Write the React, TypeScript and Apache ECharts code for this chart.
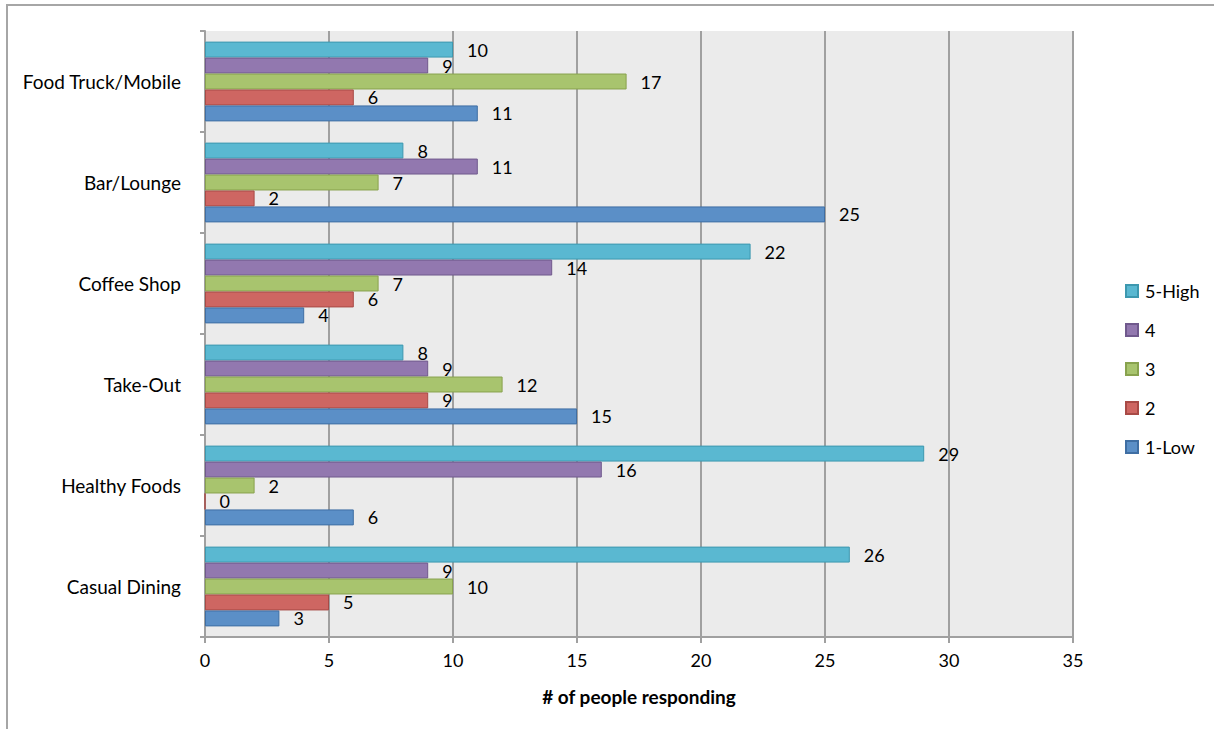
import React, { useEffect, useRef } from "react";
import * as echarts from "echarts";

const categories = ["Casual Dining", "Healthy Foods", "Take-Out", "Coffee Shop", "Bar/Lounge", "Food Truck/Mobile"];
const seriesNames = ["5-High", "4", "3", "2", "1-Low"];
const high5 = [26, 29, 8, 22, 8, 10];
const s4 = [9, 16, 9, 14, 11, 9];
const s3 = [10, 2, 12, 7, 7, 17];
const s2 = [5, 0, 9, 6, 2, 6];
const low1 = [3, 6, 15, 4, 25, 11];
const xTicks = [0, 5, 10, 15, 20, 25, 30, 35];

const fills = ["#5AB8D1", "#9278AF", "#A8C46E", "#CE6662", "#5B8FC7"];
const borders = ["#3D98AF", "#70598D", "#88A24E", "#A84A46", "#3F6EA3"];

const FONT = "Lato, 'Open Sans', sans-serif";

export default function App() {
  const ref = useRef<HTMLDivElement>(null);
  useEffect(() => {
    document.body.style.margin = "0";
    const chart = echarts.init(ref.current!, undefined, { renderer: "svg" });
    const values = [high5, s4, s3, s2, low1];
    chart.setOption({
      animation: false,
      textStyle: { fontFamily: FONT },
      graphic: [
        {
          type: "rect",
          shape: { x: 7, y: 5, width: 1400, height: 900 },
          style: { fill: "none", stroke: "#a6a6a6", lineWidth: 2 },
          z: -10,
        },
      ],
      grid: {
        left: 205,
        right: 141,
        top: 31,
        bottom: 92,
        show: true,
        backgroundColor: "#EBEBEB",
        borderWidth: 0,
      },
      legend: {
        orient: "vertical",
        left: 1120,
        top: 277,
        itemWidth: 12,
        itemHeight: 12,
        itemGap: 21,
        icon: "rect",
        data: ["5-High", "4", "3", "2", "1-Low"],
        textStyle: { fontSize: 18, color: "#000", fontFamily: FONT, padding: [0, 0, 0, 2] },
      },
      xAxis: {
        type: "value",
        min: xTicks[0],
        max: xTicks[xTicks.length - 1],
        interval: 5,
        name: "# of people responding",
        nameLocation: "middle",
        nameGap: 50,
        nameTextStyle: { fontSize: 19, fontWeight: "bold", color: "#000", fontFamily: FONT },
        axisLine: { show: true, lineStyle: { color: "#a0a0a0", width: 2 } },
        axisTick: { show: true, length: 6, lineStyle: { color: "#a0a0a0", width: 2 } },
        axisLabel: { fontSize: 18, color: "#000", margin: 14, fontFamily: FONT },
        splitLine: { show: true, lineStyle: { color: "#a0a0a0", width: 2 } },
      },
      yAxis: {
        type: "category",
        data: categories,
        axisLine: { show: true, lineStyle: { color: "#a0a0a0", width: 2 } },
        axisTick: { show: true, length: 5, inside: false, lineStyle: { color: "#a0a0a0", width: 2 } },
        axisLabel: { fontSize: 19, color: "#000", margin: 24, fontFamily: FONT },
        splitLine: { show: false },
      },
      series: seriesNames.map((name, i) => ({
        name,
        type: "bar",
        data: values[i],
        barGap: "0%",
        barCategoryGap: "21%",
        itemStyle: { color: fills[i], borderColor: borders[i], borderWidth: 1 },
        label: {
          show: true,
          position: "right",
          distance: 14,
          fontSize: 18,
          color: "#000",
          fontFamily: FONT,
        },
      })),
    });
    return () => chart.dispose();
  }, []);
  return <div ref={ref} style={{ width: 1214, height: 729 }} />;
}
